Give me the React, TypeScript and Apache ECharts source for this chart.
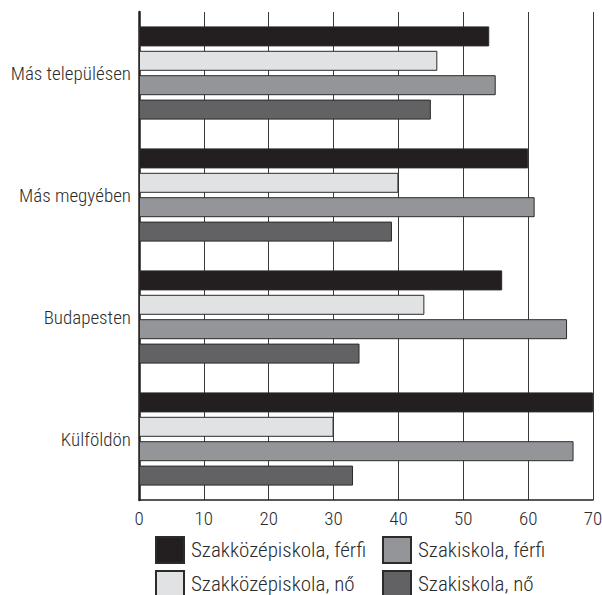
import React, { useEffect, useRef } from "react";
import * as echarts from "echarts";

const categories = ["Más településen", "Más megyében", "Budapesten", "Külföldön"];
const seriesNames = [
  "Szakközépiskola, férfi",
  "Szakközépiskola, nő",
  "Szakiskola, férfi",
  "Szakiskola, nő",
];
const szkFerfi = [54, 60, 56, 70];
const szkNo = [46, 40, 44, 30];
const szaFerfi = [55, 61, 66, 67];
const szaNo = [45, 39, 34, 33];
const xTicks = [0, 10, 20, 30, 40, 50, 60, 70];

const colors = ["#231f20", "#e1e2e3", "#939598", "#626264"];
const FONT = "'Roboto Condensed', 'Arial Narrow', sans-serif";

export default function App() {
  const ref = useRef<HTMLDivElement>(null);
  useEffect(() => {
    if (!ref.current) return;
    const chart = echarts.init(ref.current, undefined, { renderer: "svg" });
    const values = [szkFerfi, szkNo, szaFerfi, szaNo];
    const legendPos = [
      { left: 155, top: 536 },
      { left: 155, top: 570 },
      { left: 382, top: 536 },
      { left: 382, top: 570 },
    ];
    chart.setOption({
      animation: false,
      backgroundColor: "#ffffff",
      grid: {
        left: 139,
        right: 9,
        top: 12,
        bottom: 95,
        containLabel: false,
        outerBoundsMode: "none",
      },
      xAxis: {
        type: "value",
        min: xTicks[0],
        max: xTicks[xTicks.length - 1],
        interval: 10,
        axisLine: { show: true, lineStyle: { color: "#231f20", width: 1.5 } },
        axisTick: { show: false },
        splitLine: { show: true, lineStyle: { color: "#3a3a3a", width: 1 } },
        axisLabel: {
          color: "#2b2b2b",
          fontFamily: FONT,
          fontWeight: 300,
          fontSize: 19,
          margin: 9,
        },
      },
      yAxis: {
        type: "category",
        inverse: true,
        data: categories,
        axisLine: { show: true, lineStyle: { color: "#231f20", width: 2.5 } },
        axisTick: { show: false },
        axisLabel: {
          color: "#2b2b2b",
          fontFamily: FONT,
          fontWeight: 300,
          fontSize: 19,
          margin: 8,
        },
      },
      legend: seriesNames.map((name, i) => ({
        data: [{ name, icon: "rect" }],
        left: legendPos[i].left,
        top: legendPos[i].top,
        orient: "horizontal",
        itemWidth: 28,
        itemHeight: 26,
        itemGap: 0,
        padding: 0,
        selectedMode: false,
        textStyle: {
          color: "#2b2b2b",
          fontFamily: FONT,
          fontWeight: 300,
          fontSize: 21,
          padding: [0, 0, 0, 2],
        },
      })),
      series: seriesNames.map((name, i) => ({
        name,
        type: "bar",
        data: values[i],
        barWidth: 20,
        barGap: "22%",
        barCategoryGap: "23%",
        itemStyle: {
          color: colors[i],
          borderColor: "#2b2b2b",
          borderWidth: 1,
        },
      })),
    });
    return () => chart.dispose();
  }, []);
  return <div ref={ref} style={{ width: 602, height: 595, position: "absolute", left: 0, top: 0 }} />;
}
